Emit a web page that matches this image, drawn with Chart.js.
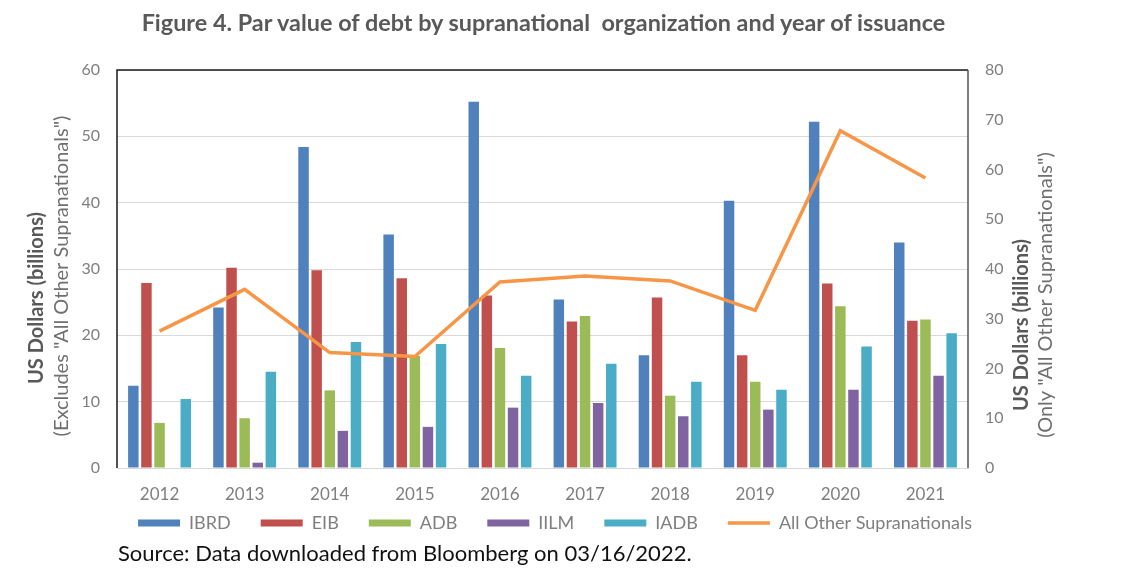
<!DOCTYPE html>
<html>
<head>
<meta charset="utf-8">
<script src="https://cdn.jsdelivr.net/npm/chart.js@4.4.1/dist/chart.umd.min.js"></script>
<style>
  html, body { margin: 0; padding: 0; background: #fff; }
  #wrap { position: relative; width: 1136px; height: 571px; }
  #title { position: absolute; left: 118px; width: 851px; top: 8px; text-align: center;
    font: bold 23.4px Lato, sans-serif; color: #595959; white-space: pre; }
  #source { position: absolute; left: 118px; top: 539px;
    font: 22px Lato, sans-serif; color: #111; }
</style>
</head>
<body>
<div id="wrap">
  <canvas id="c" width="1136" height="571"></canvas>
  <div id="title">Figure 4. Par value of debt by supranational  organization and year of issuance</div>
  <div id="source">Source: Data downloaded from Bloomberg on 03/16/2022.</div>
</div>
<script>
// Par value of debt by supranational org, billions USD

const years = ['2012','2013','2014','2015','2016','2017','2018','2019','2020','2021'];
const ibrd = [12.4, 24.2, 48.4, 35.2, 55.2, 25.4, 17.0, 40.3, 52.2, 34.0];
const eib  = [27.9, 30.2, 29.8, 28.6, 26.0, 22.1, 25.7, 17.0, 27.8, 22.2];
const adb  = [6.8, 7.5, 11.7, 16.9, 18.1, 22.9, 10.9, 13.0, 24.4, 22.4];
const iilm = [0, 0.8, 5.6, 6.2, 9.1, 9.8, 7.8, 8.8, 11.8, 13.9];
const iadb = [10.4, 14.5, 19.0, 18.7, 13.9, 15.7, 13.0, 11.8, 18.3, 20.3];
const otherSupras = [27.5, 35.9, 23.2, 22.4, 37.4, 38.6, 37.6, 31.7, 67.8, 58.3]; // right axis

const leftTicks = [0, 10, 20, 30, 40, 50, 60];
const rightTicks = [0, 10, 20, 30, 40, 50, 60, 70, 80];

const FONT = 'Lato, sans-serif';
const TICK_GRAY = '#7f7f7f';

const bar = (label, data, color) => ({
  type: 'bar', label, data, backgroundColor: color, borderWidth: 0,
  pointStyle: 'rect', yAxisID: 'y', order: 2,
  categoryPercentage: 0.77, barPercentage: 0.8,
});

// axis titles + plot frame
const extras = {
  id: 'extras',
  afterLayout(chart) {
    // legend in the original sits a bit left of centre and tight under the year labels
    const lg = chart.legend;
    lg.left -= 13; lg.right -= 13;
    lg.top -= 24; lg.bottom -= 24;
  },
  afterDraw(chart) {
    const { ctx, chartArea: a } = chart;
    ctx.save();
    ctx.lineWidth = 1.5;
    ctx.strokeStyle = '#1a1a1a';
    ctx.beginPath();
    ctx.moveTo(a.left, a.bottom); ctx.lineTo(a.left, a.top); ctx.lineTo(a.right, a.top);
    ctx.stroke();
    ctx.strokeStyle = '#555';
    ctx.beginPath();
    ctx.moveTo(a.right, a.top); ctx.lineTo(a.right, a.bottom);
    ctx.stroke();

    const vtext = (txt, x, y, font, color) => {
      ctx.save();
      ctx.translate(x, y);
      ctx.rotate(-Math.PI / 2);
      ctx.font = font; ctx.fillStyle = color;
      ctx.textAlign = 'center'; ctx.textBaseline = 'middle';
      ctx.fillText(txt, 0, 0);
      ctx.restore();
    };
    vtext('US Dollars (billions)', 37, 298, 'bold 20px ' + FONT, '#595959');
    vtext('(Excludes "All Other Supranationals")', 62, 276, '20px ' + FONT, '#6f6f6f');
    vtext('US Dollars (billions)', 1022, 325, 'bold 20px ' + FONT, '#595959');
    vtext('(Only "All Other Supranationals")', 1046, 295, '20px ' + FONT, '#6f6f6f');
    ctx.restore();
  }
};

new Chart(document.getElementById('c'), {
  data: {
    labels: years,
    datasets: [
      { type: 'line', label: 'All Other Supranationals', data: otherSupras,
        borderColor: '#F79646', backgroundColor: '#F79646', borderWidth: 3.5,
        pointRadius: 0, pointStyle: 'line', tension: 0, yAxisID: 'y1', order: 1 },
      bar('IBRD', ibrd, '#4F81BD'),
      bar('EIB', eib, '#C0504D'),
      bar('ADB', adb, '#9BBB59'),
      bar('IILM', iilm, '#8064A2'),
      bar('IADB', iadb, '#4BACC6'),
    ],
  },
  options: {
    responsive: false,
    animation: false,
    layout: { padding: { top: 70, bottom: 5, left: 0, right: 0 } },
    plugins: {
      tooltip: { enabled: false },
      legend: {
        position: 'bottom',
        labels: {
          usePointStyle: true, pointStyleWidth: 42, boxHeight: 7,
          padding: 30, color: TICK_GRAY, font: { family: FONT, size: 18 },
          sort: (a, b) => (a.datasetIndex === 0) - (b.datasetIndex === 0),
        },
      },
    },
    scales: {
      x: {
        grid: { display: false, drawTicks: false },
        border: { color: '#d9d9d9' },
        ticks: { padding: 16, color: TICK_GRAY, font: { family: FONT, size: 17 } },
        afterFit: s => { s.height = 40; },
      },
      y: {
        position: 'left', min: 0, max: 60,
        afterBuildTicks: s => { s.ticks = leftTicks.map(v => ({ value: v })); },
        grid: { color: '#d9d9d9', drawTicks: false },
        border: { display: false },
        ticks: { padding: 17, color: TICK_GRAY, font: { family: FONT, size: 16 } },
        afterFit: s => { s.width = 117; },
      },
      y1: {
        position: 'right', min: 0, max: 80,
        afterBuildTicks: s => { s.ticks = rightTicks.map(v => ({ value: v })); },
        grid: { display: false, drawTicks: false },
        border: { display: false },
        ticks: { padding: 17, color: TICK_GRAY, font: { family: FONT, size: 16 } },
        afterFit: s => { s.width = 168; },
      },
    },
  },
  plugins: [extras],
});
</script>
</body>
</html>
